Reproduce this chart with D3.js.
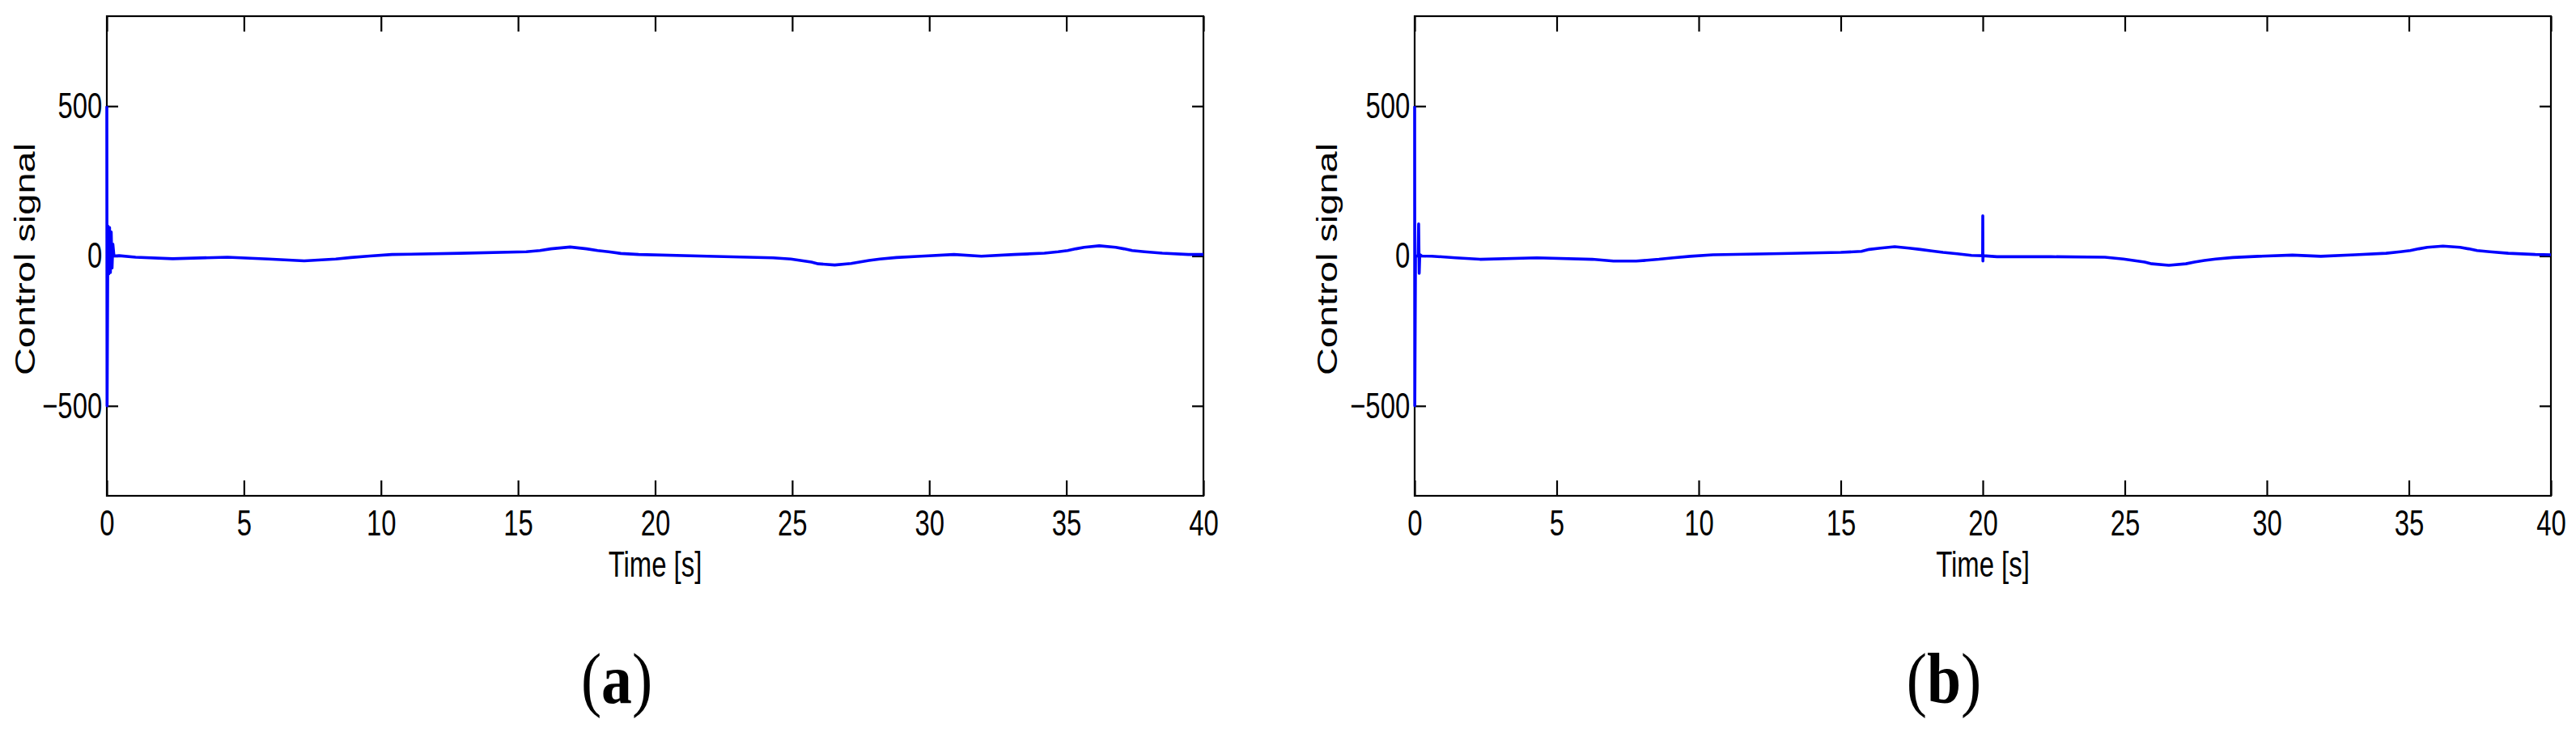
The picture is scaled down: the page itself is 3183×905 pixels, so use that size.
<!DOCTYPE html>
<html>
<head>
<meta charset="utf-8">
<script src="https://cdn.jsdelivr.net/npm/d3@7"></script>
<style>
  html, body { margin: 0; padding: 0; background: #fff; }
  svg { display: block; }
</style>
</head>
<body>
<svg id="chart" width="3183" height="905"></svg>
<script>
// ---------------- data ----------------
const xTicks = [0, 5, 10, 15, 20, 25, 30, 35, 40];
const yTicks = [-500, 0, 500];
const yTickLabels = ["\u2212500", "0", "500"];
const xLabel = "Time [s]";
const yLabel = "Control signal";
const captions = ["a", "b"];

// panel (a)
const timeA = [0, 0.01, 0.04, 0.07, 0.10, 0.13, 0.16, 0.19, 0.22, 0.26,
  0.45, 1.05, 2.4, 4.4, 5.9, 7.2, 8.35, 8.9, 9.6, 10.4, 12.9, 15.3, 15.8, 16.2,
  16.9, 17.5, 17.9, 18.3, 18.75, 19.4, 21.9, 24.3, 24.95, 25.4, 25.7, 25.95,
  26.55, 27.15, 27.45, 27.8, 28.2, 28.8, 29.7, 30.9, 31.9, 33.1, 34.2, 34.7,
  35.05, 35.35, 35.65, 36.2, 36.8, 37.1, 37.4, 37.85, 38.5, 39.45, 40];
const controlA = [500, -500, 100, -60, 95, -55, 80, -40, 40, 0,
  1, -4, -9, -4, -10, -16, -10, -5, 0, 5, 9, 14, 18, 24,
  30, 24, 18, 14, 8.5, 5, -0.5, -6, -10, -16, -20, -26,
  -30, -25, -20, -15, -10, -5, -0.5, 5, -0.5, 5, 9.4, 14,
  18, 24, 29, 34, 29, 24, 18, 14, 9.4, 5, 5];

// panel (b)
const timeB = [0, 0.005, 0.03, 0.12, 0.14, 0.16, 0.18, 0.25,
  0.6, 1.45, 2.3, 4.3, 6.25, 7.0, 7.8, 8.6, 9.1, 9.7, 10.5, 12.9, 15.0, 15.73,
  16.0, 16.4, 16.9, 17.4, 17.8, 18.2, 18.6, 19.1, 19.6, 19.995, 20.0, 20.005, 20.01,
  20.5, 22.4, 24.3, 24.95, 25.4, 25.7, 25.95, 26.55, 27.15, 27.45, 27.8, 28.2,
  28.8, 29.7, 30.9, 31.9, 33.1, 34.2, 34.7, 35.05, 35.35, 35.65, 36.2, 36.8,
  37.1, 37.4, 37.85, 38.5, 39.45, 40];
const controlB = [500, -500, 0, 0, 107, -58, 5, 0,
  -0.5, -6, -11, -6, -11, -17, -17, -11, -6, -1, 4, 8, 12, 15.7,
  22, 26.5, 31, 26.5, 22, 16.7, 12, 7.6, 2.2, 1, 134, -17, 1,
  -2.3, -2.3, -4, -10, -16, -20, -26, -31, -26, -20, -15, -10,
  -5, -1, 3, -1, 4, 9, 14, 18, 24, 29, 33, 29,
  24, 18, 14, 9, 5, 4];

// ---------------- layout ----------------
const svg = d3.select("#chart");
svg.append("rect").attr("width", 3183).attr("height", 905).attr("fill", "#fff");

const panels = [
  { left: 132, right: 1487, top: 20, bottom: 613, t: timeA, v: controlA,
    yLabelX: 43, captionX: 762 },
  { left: 1748, right: 3152, top: 20, bottom: 613, t: timeB, v: controlB,
    yLabelX: 1652, captionX: 2402 }
];

const fontFam = "'Liberation Sans', Arial, Helvetica, sans-serif";
const sx = 0.73;   // horizontal squeeze of the original figure text

panels.forEach((p, i) => {
  const x = d3.scaleLinear().domain([0, 40]).range([p.left, p.right]);
  const y = d3.scaleLinear().domain([-800, 800]).range([p.bottom, p.top]);
  const g = svg.append("g");

  // axes
  const xb = g.append("g").attr("transform", `translate(0,${p.bottom})`)
    .call(d3.axisBottom(x).tickValues(xTicks).tickFormat(d3.format("d"))
      .tickSizeInner(-19).tickSizeOuter(0).tickPadding(17));
  const xt = g.append("g").attr("transform", `translate(0,${p.top})`)
    .call(d3.axisTop(x).tickValues(xTicks).tickFormat("")
      .tickSizeInner(-19).tickSizeOuter(0));
  const yl = g.append("g").attr("transform", `translate(${p.left},0)`)
    .call(d3.axisLeft(y).tickValues(yTicks).tickFormat((d, k) => yTickLabels[k])
      .tickSizeInner(-14).tickSizeOuter(0).tickPadding(8));
  const yr = g.append("g").attr("transform", `translate(${p.right},0)`)
    .call(d3.axisRight(y).tickValues(yTicks).tickFormat("")
      .tickSizeInner(-14).tickSizeOuter(0));

  [xb, xt, yl, yr].forEach(a => {
    a.select(".domain").remove();
    a.selectAll(".tick line").attr("stroke", "#000").attr("stroke-width", 2.2);
    a.selectAll(".tick text")
      .attr("fill", "#000")
      .attr("font-family", fontFam)
      .attr("font-size", 45)
      .attr("transform", `scale(${sx},1)`);
  });

  // box
  g.append("rect")
    .attr("x", p.left).attr("y", p.top)
    .attr("width", p.right - p.left).attr("height", p.bottom - p.top)
    .attr("fill", "none").attr("stroke", "#000").attr("stroke-width", 2.2);

  // data line (drawn over the axes, as in the original)
  const pts = p.t.map((t, k) => [t, p.v[k]]);
  const line = d3.line().x(d => x(d[0])).y(d => y(d[1]));
  g.append("path").datum(pts)
    .attr("d", line)
    .attr("fill", "none")
    .attr("stroke", "#0000ff")
    .attr("stroke-width", 3.6)
    .attr("stroke-linejoin", "round");

  // x label
  g.append("text")
    .attr("transform", `translate(${(p.left + p.right) / 2},713) scale(${sx},1)`)
    .attr("text-anchor", "middle")
    .attr("font-family", fontFam).attr("font-size", 45)
    .text(xLabel);

  // y label
  g.append("text")
    .attr("transform", `translate(${p.yLabelX},${(p.top + p.bottom) / 2 + 4}) scale(${sx},1) rotate(-90)`)
    .attr("text-anchor", "middle")
    .attr("font-family", fontFam).attr("font-size", 47)
    .text(yLabel);

  // caption
  const cap = g.append("text")
    .attr("transform", `translate(${p.captionX},869) scale(0.86,1)`)
    .attr("text-anchor", "middle")
    .attr("font-family", "'Liberation Serif', 'Times New Roman', serif")
    .attr("font-size", 88);
  cap.append("tspan").text("(");
  cap.append("tspan").attr("font-weight", "bold").text(captions[i]);
  cap.append("tspan").text(")");
});
</script>
</body>
</html>
